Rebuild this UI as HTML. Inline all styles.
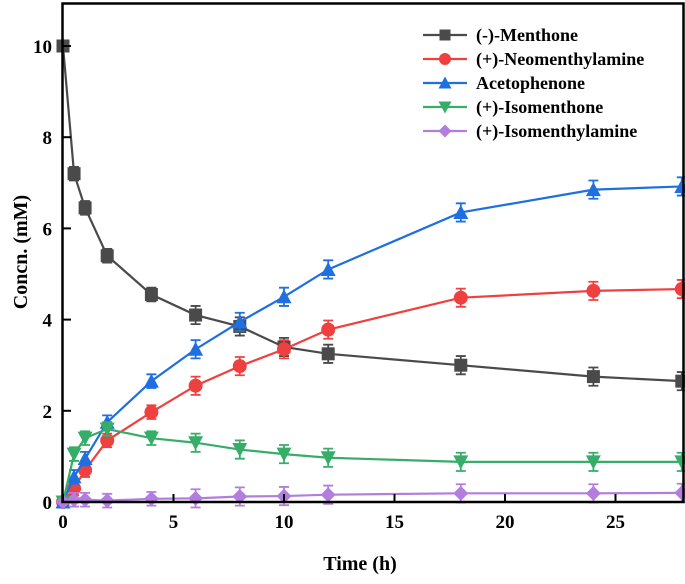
<!DOCTYPE html>
<html><head><meta charset="utf-8"><style>
body{margin:0;background:#fff}
svg text{font-family:"Liberation Serif",serif;font-weight:bold}
</style></head><body>
<svg id="chart" width="685" height="579">
<g id="marks"></g>
<rect x="62.5" y="3.5" width="621" height="498.5" fill="none" stroke="#000" stroke-width="2.5"/>
<g id="axes"></g>
<text x="360" y="570" font-size="20" text-anchor="middle">Time (h)</text>
<text transform="translate(27,252) rotate(-90)" font-size="20" text-anchor="middle">Concn. (mM)</text>
<g id="legend"></g>
</svg>
<script>
const times=[0,0.5,1,2,4,6,8,10,12,18,24,28];
const seriesNames=["(-)-Menthone","(+)-Neomenthylamine","Acetophenone","(+)-Isomenthone","(+)-Isomenthylamine"];
const menthone=[10,7.2,6.45,5.4,4.55,4.1,3.85,3.4,3.25,3.0,2.75,2.65];
const neomenthylamine=[0,0.3,0.7,1.35,1.97,2.55,2.98,3.35,3.78,4.48,4.63,4.67];
const acetophenone=[0,0.55,0.95,1.75,2.65,3.35,3.95,4.5,5.1,6.35,6.85,6.92];
const isomenthone=[0,1.05,1.4,1.6,1.4,1.3,1.15,1.05,0.97,0.88,0.88,0.88];
const isomenthylamine=[0,0.05,0.05,0.03,0.07,0.08,0.12,0.13,0.16,0.19,0.19,0.2];
const errs=[0.15,0.15,0.15,0.15,0.15,0.2,0.2,0.2,0.2,0.2,0.2,0.2];
const xTicks=[0,5,10,15,20,25];
const yTicks=[0,2,4,6,8,10];
const NS="http://www.w3.org/2000/svg";
const X=v=>63+v*22.1, Y=v=>502-v*45.6;
const colors=["#4a4a4a","#ef4040","#1f6fe0","#36ad68","#b27ddf"];
const shapes=["square","circle","up","down","diamond"];
const data=[menthone,neomenthylamine,acetophenone,isomenthone,isomenthylamine];
function mk(tag,attrs,parent){const e=document.createElementNS(NS,tag);for(const k in attrs)e.setAttribute(k,attrs[k]);parent.appendChild(e);return e;}
function marker(shape,x,y,c,parent,s){
  s=s||6.5;let e;
  if(shape==="square")e=mk("rect",{x:x-s,y:y-s,width:2*s,height:2*s,fill:c},parent);
  else if(shape==="circle")e=mk("circle",{cx:x,cy:y,r:s+0.5,fill:c},parent);
  else if(shape==="up")e=mk("polygon",{points:`${x},${y-s-1} ${x+s+1},${y+s} ${x-s-1},${y+s}`,fill:c},parent);
  else if(shape==="down")e=mk("polygon",{points:`${x},${y+s+1} ${x+s+1},${y-s} ${x-s-1},${y-s}`,fill:c},parent);
  else e=mk("polygon",{points:`${x},${y-s-1} ${x+s+1},${y} ${x},${y+s+1} ${x-s-1},${y}`,fill:c},parent);
  return e;
}
const marks=document.getElementById("marks");
data.forEach((arr,si)=>{
  const g=mk("g",{},marks);
  
  
  const pl=mk("polyline",{points:arr.map((v,i)=>X(times[i])+","+Y(v)).join(" "),fill:"none",stroke:colors[si],"stroke-width":2.2},g);
  
  
  arr.forEach((v,i)=>{
    const x=X(times[i]),y=Y(v),e=errs[i]*45.6;
    if(i>0){mk("path",{d:`M${x},${y-e}V${y+e}M${x-5},${y-e}H${x+5}M${x-5},${y+e}H${x+5}`,stroke:colors[si],"stroke-width":1.8,fill:"none"},g);}
    const m=marker(shapes[si],x,y,colors[si],g);
    
    
  });
});
const axes=document.getElementById("axes");
xTicks.forEach(t=>{
  mk("line",{x1:X(t),x2:X(t),y1:502,y2:494,stroke:"#000","stroke-width":2},axes);
  const tx=mk("text",{x:X(t),y:528,"font-size":19,"text-anchor":"middle"},axes);
  tx.textContent=t;
  
  
});
yTicks.forEach(t=>{
  mk("line",{x1:63,x2:71,y1:Y(t),y2:Y(t),stroke:"#000","stroke-width":2},axes);
  const tx=mk("text",{x:52,y:Y(t)+7,"font-size":19,"text-anchor":"end"},axes);
  tx.textContent=t;
  
  
});
const lg=document.getElementById("legend");
seriesNames.forEach((n,i)=>{
  const y=35+i*24;
  mk("line",{x1:423,x2:467,y1:y,y2:y,stroke:colors[i],"stroke-width":2.2},lg);
  marker(shapes[i],445,y,colors[i],lg,5.5);
  const tx=mk("text",{x:476,y:y+6,"font-size":18},lg);
  tx.textContent=n;
  
  
});
</script>
</body></html>
